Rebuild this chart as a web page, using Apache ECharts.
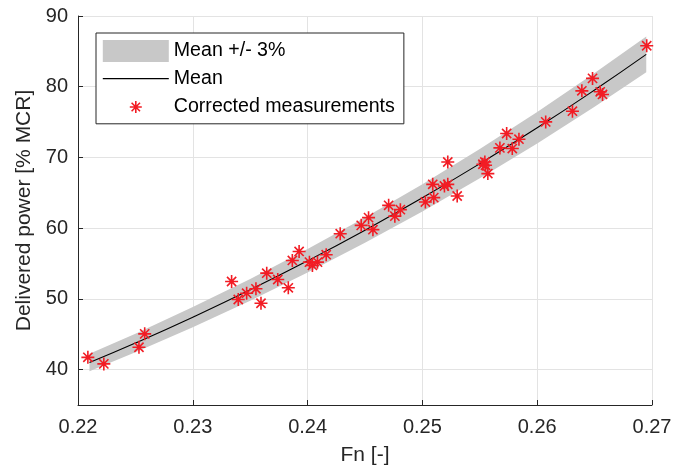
<!DOCTYPE html>
<html>
<head>
<meta charset="utf-8">
<script src="https://cdn.jsdelivr.net/npm/echarts@6/dist/echarts.min.js"></script>
<style>html,body{margin:0;padding:0;background:#fff}#c{width:688px;height:471px}</style>
</head>
<body>
<div id="c"></div>
<script>
// Measured points (Fn, delivered power % MCR)
var fnMeas = [0.22086,0.22225,0.22531,0.22581,0.23338,0.23396,0.23469,0.23550,0.23594,0.23644,0.23740,0.23832,0.23867,0.23926,0.24016,0.24042,0.24086,0.24162,0.24284,0.24467,0.24531,0.24569,0.24706,0.24760,0.24808,0.25026,0.25099,0.25090,0.25192,0.25221,0.25221,0.25303,0.25527,0.25544,0.25550,0.25570,0.25675,0.25734,0.25783,0.25841,0.26074,0.26307,0.26389,0.26482,0.26549,0.26569,0.26954];
var powMeas = [41.74,40.81,43.16,45.06,52.46,49.92,50.81,51.43,49.39,53.64,52.75,51.57,55.44,56.71,55.20,54.73,55.20,56.25,59.22,60.40,61.49,59.79,63.23,61.70,62.62,63.70,64.32,66.20,65.96,66.20,69.36,64.55,69.04,69.36,68.90,67.72,71.35,73.39,71.26,72.58,75.03,76.54,79.42,81.18,79.28,78.91,85.79];
// Mean curve
var fnMean = [0.221,0.225,0.230,0.235,0.240,0.245,0.250,0.255,0.260,0.265,0.2695];
var powMean = [41.00,43.76,47.42,51.29,55.39,59.72,64.29,69.12,74.19,79.54,84.58];
var bandPct = 0.03;
var xTicks = [0.22,0.23,0.24,0.25,0.26,0.27];
var yTicks = [40,50,60,70,80,90];

var meanData = fnMean.map(function(x,i){return [x, powMean[i]];});
var bandData = fnMean.map(function(x,i){return [x, powMean[i]*(1-bandPct), powMean[i]*(1+bandPct)];});
var measData = fnMeas.map(function(x,i){return [x, powMeas[i]];});

var RED = '#f21c24';
var TXT = '#262626';
var FONT = 'Liberation Sans';
var BAND = '#c8c8c8';
var star = 'path://M0,5 L10,5 M5,0 L5,10 M1.46,1.46 L8.54,8.54 M1.46,8.54 L8.54,1.46';
var starLegend = 'path://M0,0 M66,22 M27,11 L39,11 M33,5 L33,17 M28.8,6.8 L37.2,15.2 M28.8,15.2 L37.2,6.8';
var lineLegend = 'path://M0,0 M66,22 M0,11 L66,11';

function renderBand(params, api) {
  if (params.dataIndex !== 0) return null;
  var pts = [];
  for (var i = 0; i < bandData.length; i++) pts.push(api.coord([bandData[i][0], bandData[i][2]]));
  for (var j = bandData.length - 1; j >= 0; j--) pts.push(api.coord([bandData[j][0], bandData[j][1]]));
  return {type: 'polygon', shape: {points: pts, smooth: 0}, style: {fill: BAND, stroke: null}, silent: true};
}

var chart = echarts.init(document.getElementById('c'), null, {renderer:'canvas'});
chart.setOption({
  animation: false,
  backgroundColor: '#fff',
  textStyle: {fontFamily: FONT, color: TXT},
  grid: {left: 78, right: 36, top: 16, bottom: 66, containLabel: false},
  legend: {
    orient: 'vertical', left: 96, top: 33,
    padding: [7, 9, 5, 6],
    itemWidth: 66, itemHeight: 22, itemGap: 5,
    backgroundColor: '#fff', borderColor: TXT, borderWidth: 1,
    selectedMode: false,
    textStyle: {fontFamily: FONT, fontSize: 19.6, color: '#000', lineHeight: 22},
    data: [
      {name: 'Mean +/- 3%', icon: 'rect', itemStyle: {color: BAND, borderWidth: 0}},
      {name: 'Mean', icon: lineLegend, itemStyle: {color: 'transparent', borderColor: '#000', borderWidth: 1.2}},
      {name: 'Corrected measurements', icon: starLegend, itemStyle: {color: 'transparent', borderColor: RED, borderWidth: 1.6}}
    ]
  },
  xAxis: {
    type: 'value', min: 0.22, max: 0.27, interval: 0.01,
    name: 'Fn [-]', nameLocation: 'middle', nameGap: 40,
    nameTextStyle: {fontFamily: FONT, fontSize: 21, color: TXT},
    axisLine: {lineStyle: {color: TXT, width: 1}},
    axisTick: {inside: true, length: 5, lineStyle: {color: TXT}},
    axisLabel: {fontFamily: FONT, fontSize: 20, color: TXT, margin: 12,
      formatter: function(v){ return v.toFixed(2); }},
    splitLine: {show: true, lineStyle: {color: '#e3e3e3', width: 1}}
  },
  yAxis: {
    type: 'value', min: 35, max: 90,
    name: 'Delivered power [% MCR]', nameLocation: 'middle', nameGap: 42,
    nameTextStyle: {fontFamily: FONT, fontSize: 21, color: TXT},
    axisLine: {show: true, lineStyle: {color: TXT, width: 1}},
    axisTick: {show: true, inside: true, length: 5, lineStyle: {color: TXT}},
    axisLabel: {fontFamily: FONT, fontSize: 20, color: TXT, margin: 10, showMinLabel: false,
      formatter: function(v){ return yTicks.indexOf(v) >= 0 ? String(v) : ''; }},
    splitLine: {show: true, lineStyle: {color: '#e3e3e3', width: 1}}
  },
  series: [
    {name: 'Mean +/- 3%', type: 'custom', data: bandData, renderItem: renderBand,
      encode: {x: 0, y: [1, 2]}, itemStyle: {color: BAND}, silent: true, z: 1, clip: true},
    {name: 'Mean', type: 'line', data: meanData, symbol: 'none', smooth: true,
      lineStyle: {color: '#000', width: 1.1}, itemStyle: {color: '#000'}, z: 2},
    {name: 'Corrected measurements', type: 'scatter', data: measData, symbol: star, symbolSize: 13,
      itemStyle: {color: 'transparent', borderColor: RED, borderWidth: 1.6, opacity: 1}, z: 3}
  ]
});
</script>
</body>
</html>
